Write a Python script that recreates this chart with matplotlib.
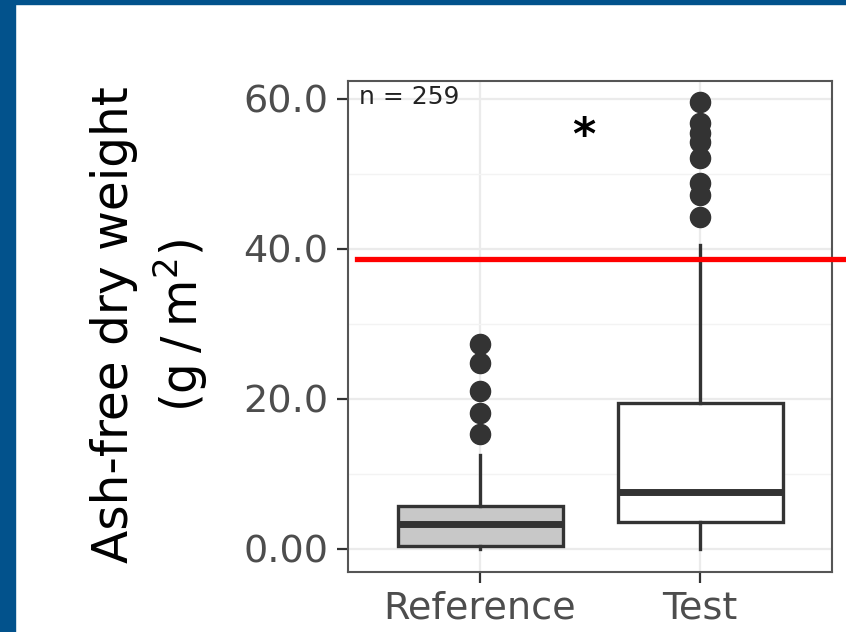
import matplotlib.pyplot as plt
from matplotlib.patches import Rectangle
from matplotlib.transforms import blended_transform_factory

# box statistics (g/m2)
groups = ["Reference", "Test"]
q1 = [0.4, 3.6]
med = [3.3, 7.6]
q3 = [5.7, 19.5]
whis_lo = [0.0, 0.0]
whis_hi = [12.5, 40.5]
outliers_ref = [15.3, 18.1, 21.1, 24.8, 27.3]
outliers_test = [44.3, 47.2, 48.8, 52.1, 54.3, 55.5, 56.8, 59.6]
fills = ["#C8C8C8", "white"]

threshold = 38.7
n_label = "n = 259"
yticks = [0, 20, 40, 60]
yticklabels = ["0.00", "20.0", "40.0", "60.0"]

fig = plt.figure(figsize=(8.46, 6.32), dpi=100)
fig.patch.set_facecolor("white")

# blue frame on the top and left
fig.patches.append(Rectangle((0, 0), 15 / 846, 1, transform=fig.transFigure,
                             color="#02528C", zorder=0))
fig.patches.append(Rectangle((0, 1 - 4 / 632), 1, 4 / 632, transform=fig.transFigure,
                             color="#02528C", zorder=0))

ax = fig.add_axes([348 / 846, 1 - 572 / 632, 484 / 846, 491 / 632])

stats = []
fliers = [outliers_ref, outliers_test]
for i, g in enumerate(groups):
    stats.append(dict(label=g, q1=q1[i], med=med[i], q3=q3[i],
                      whislo=whis_lo[i], whishi=whis_hi[i], fliers=fliers[i]))

bp = ax.bxp(stats, positions=[1, 2], widths=0.75, patch_artist=True,
            showcaps=False,
            boxprops=dict(edgecolor="#333333", linewidth=2.4),
            medianprops=dict(color="#333333", linewidth=5, solid_capstyle="butt"),
            whiskerprops=dict(color="#333333", linewidth=2.4),
            flierprops=dict(marker="o", markerfacecolor="#333333",
                            markeredgecolor="#333333", markersize=14.5))
for patch, c in zip(bp["boxes"], fills):
    patch.set_facecolor(c)

ax.set_xlim(0.4, 2.6)
ax.set_ylim(-3.1, 62.4)
ax.set_yticks(yticks)
ax.set_yticklabels(yticklabels)
ax.set_yticks([10, 30, 50], minor=True)
ax.set_xticks([1, 2])
ax.set_xticklabels(groups)

ax.grid(True, which="major", color="#EBEBEB", linewidth=1.6, zorder=0)
ax.grid(True, which="minor", axis="y", color="#F3F3F3", linewidth=1.0, zorder=0)
ax.set_axisbelow(True)

for s in ax.spines.values():
    s.set_color("#555555")
    s.set_linewidth(1.5)
ax.tick_params(axis="both", which="major", length=8, width=1.6, color="#333333",
               labelsize=27.5, labelcolor="#4D4D4D")
ax.tick_params(axis="y", which="major", pad=6)
ax.tick_params(axis="x", which="major", pad=5)
ax.tick_params(axis="y", which="minor", length=0)

ax.text(0.45, 60.3, n_label, fontsize=18, color="#222222", va="center", ha="left")
ax.text(1.47, 55.0, "*", fontsize=32, fontweight="bold", color="black",
        ha="center", va="center")

# red threshold line running past the panel
tr = blended_transform_factory(fig.transFigure, ax.transData)
ax.plot([357 / 846, 1.0], [threshold, threshold], color="#FF0000", linewidth=3.8,
        transform=tr, clip_on=False, zorder=5)

fig.text(150 / 846, 1 - 325 / 632, "Ash-free dry weight\n(g\u2009/\u2009m$^2$)",
         rotation=90, ha="center", va="center", fontsize=35, color="black",
         multialignment="center", linespacing=1.3)

fig.savefig("out.png", dpi=100)
